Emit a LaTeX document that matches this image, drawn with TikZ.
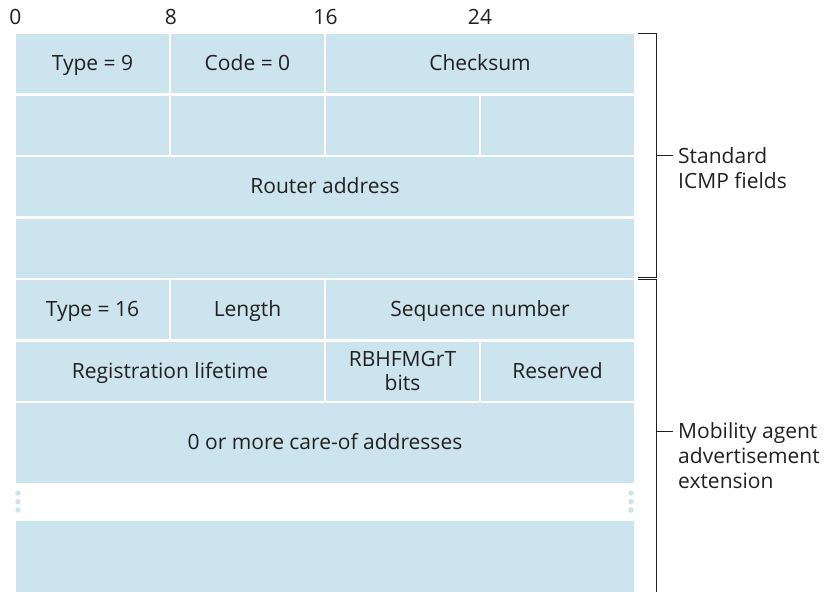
\documentclass[tikz,border=0pt]{standalone}
\usepackage{fontspec}
\setmainfont{Open Sans}
\usetikzlibrary{positioning, calc}
\definecolor{fieldblue}{RGB}{204,228,238}
\definecolor{inkgray}{RGB}{35,31,32}

\begin{document}
\begin{tikzpicture}[
    x=1pt, y=-1pt,
    % Styles
    field/.style={
        rectangle,
        fill=fieldblue,
        inner sep=0pt,
        minimum height=59pt,
        text height=19pt,
        text depth=5pt,
        text=inkgray,
        font=\fontsize{21}{24.5}\selectfont,
        align=center
    },
    byte/.style={
        field,
        minimum width=152.5pt
    },
    halfword/.style={
        field,
        minimum width=307.5pt
    },
    word/.style={
        field,
        minimum width=617.5pt
    },
    bitnum/.style={
        text=inkgray,
        inner sep=0pt,
        anchor=base,
        font=\fontsize{21}{24}\selectfont
    },
    brace/.style={
        draw=inkgray,
        line width=1pt
    },
    dot/.style={
        circle,
        fill=fieldblue,
        inner sep=0pt,
        minimum size=5.5pt
    },
    side/.style={
        text=inkgray,
        inner sep=0pt,
        anchor=north west,
        align=left,
        font=\fontsize{21}{25}\selectfont
    }
]
    \useasboundingbox (0,0) rectangle (831,592);

    % Bit numbers
    \node[bitnum] (b0) at (15.5,24) {0};
    \node[bitnum] (b8) at (171,24) {8};
    \node[bitnum] (b16) at (325.5,24) {16};
    \node[bitnum] (b24) at (480,24) {24};

    % Standard ICMP fields
    \node[byte] (type9) at (92.5,63.5) {Type = 9};
    \node[byte] (code0) at (247.5,63.5) {Code = 0};
    \node[halfword] (cksum) at (480,63.5) {Checksum};

    \node[byte] (w2a) at (92.5,125) {};
    \node[byte] (w2b) at (247.5,125) {};
    \node[byte] (w2c) at (402.5,125) {};
    \node[byte] (w2d) at (557.5,125) {};

    \node[word] (router) at (325,186.5) {Router address};
    \node[word] (w4) at (325,248) {};

    % Mobility agent advertisement extension
    \node[byte] (type16) at (92.5,309.5) {Type = 16};
    \node[byte] (len) at (247.5,309.5) {Length};
    \node[halfword] (seqno) at (480,309.5) {Sequence number};

    \node[halfword] (reglife) at (170,371) {Registration lifetime};
    \node[byte, text height={}, text depth={}] (rbits) at (402.5,371) {RBHFMGrT\\bits};
    \node[byte] (resvd) at (557.5,371) {Reserved};

    \node[word, minimum height=79.5pt] (careof) at (325,442.75) {0 or more care-of addresses};
    \node[word, minimum height=71.5pt] (lastw) at (325,556.25) {};

    % Dots
    \foreach \dy [count=\i] in {493,501.7,510} {
        \node[dot] (ldot\i) at (18,\dy) {};
        \node[dot] (rdot\i) at (631,\dy) {};
    }

    % Brackets
    \draw[brace] ([xshift=4pt]cksum.north east) -- ++(19,0) coordinate (stdtop)
        |- ([xshift=4pt]w4.south east);
    \draw[brace] (stdtop |- 0,155.5) -- ++(16,0) coordinate (stdtip);
    \node[side] (stdlbl) at (678,147.5) {Standard\\ICMP fields};

    \draw[brace] ([xshift=4pt]seqno.north east) -- ++(19,0) coordinate (mobtop)
        -- (mobtop |- lastw.south);
    \draw[brace] (mobtop |- 0,431) -- ++(16,0) coordinate (mobtip);
    \node[side] (moblbl) at (678,422.5) {Mobility agent\\advertisement\\extension};
\end{tikzpicture}
\end{document}
